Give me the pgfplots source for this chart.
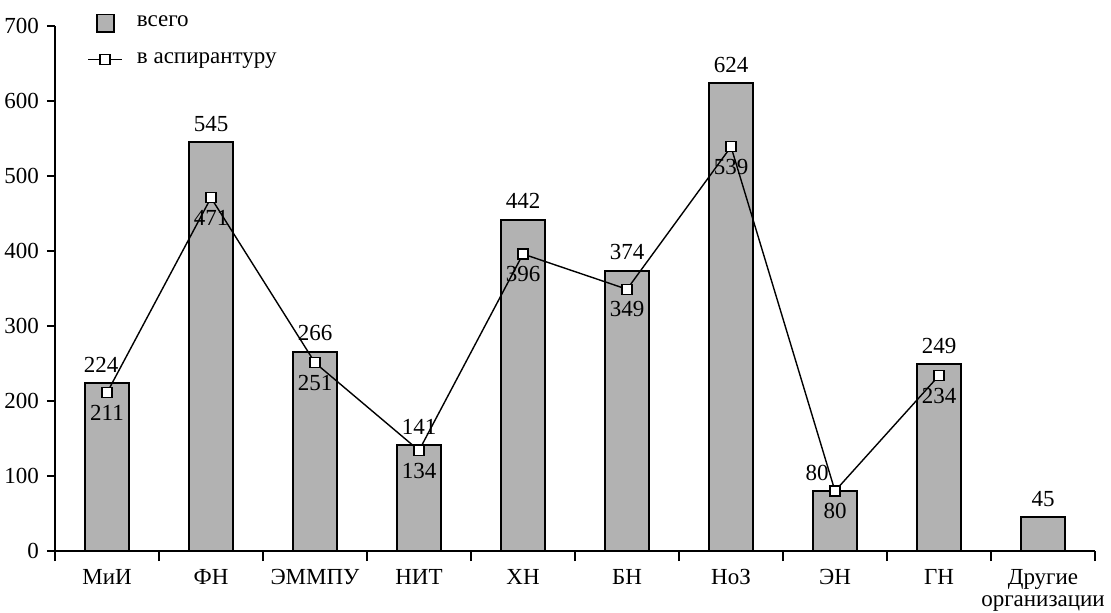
\documentclass[border=0pt]{standalone}
\usepackage{pgfplots}
\pgfplotsset{compat=1.18}
\usepackage{pgfplotstable}
\usepackage{fontspec}
\setmainfont{Liberation Serif}

\pgfplotstableread{
x y dx
0 224 -3
1 545 0
2 266 0
3 141 0
4 442 0
5 374 0
6 624 0
7 80 -9
8 249 0
9 45 0
}\bars

\pgfplotstableread{
x y
0 211
1 471
2 251
3 134
4 396
5 349
6 539
7 80
8 234
}\asp

\begin{document}
\begin{tikzpicture}
\path[use as bounding box] (-27.5pt,-30.5pt) rectangle (528pt,275.5pt);
\fontsize{11.5}{13}\selectfont
\begin{axis}[
  scale only axis,
  width=520pt, height=262.5pt,
  xmin=-0.5, xmax=9.5,
  ymin=0, ymax=700,
  axis lines=left,
  axis line style={line width=1pt, -},
  ytick={0,100,...,700},
  xtick={0,...,9},
  xticklabels={МиИ,ФН,ЭММПУ,НИТ,ХН,БН,НоЗ,ЭН,ГН,{Другие\\организации}},
  xticklabel style={align=center, font=\fontsize{11.5}{11}\selectfont, yshift=-1pt},
  yticklabel style={font=\fontsize{11.5}{13}\selectfont},
  major x tick style={draw=none},
  minor xtick={-0.5,0.5,...,9.5},
  minor x tick style={line width=1pt, black},
  major y tick style={line width=1pt, black},
  tick align=outside,
  major tick length=4pt,
  minor tick length=5pt,
  /pgf/number format/assume math mode=true,
  legend style={draw=none, fill=none, at={(rel axis cs:0.025,1.035)}, anchor=north west,
    font=\fontsize{11.5}{13}\selectfont, row sep=7pt, column sep=5pt},
  legend cell align=left,
  clip=false,
]
\addplot[ybar, bar width=0.42, fill=gray!60, draw=black, line width=1pt,
  nodes near coords,
  visualization depends on={\thisrow{dx} \as \dx},
  nodes near coords style={font=\fontsize{11.5}{13}\selectfont, xshift=\dx pt, yshift=1pt, black},
  legend image code/.code={\draw[fill=gray!60, draw=black, line width=0.8pt] (0.16cm,-0.15cm) rectangle (0.46cm,0.15cm);}
] table[x=x, y=y] {\bars};
\addlegendentry{всего}
\addplot[black, line width=0.7pt, mark=square*, mark options={fill=white, draw=black, line width=0.7pt}, mark size=2.5pt,
  nodes near coords,
  nodes near coords style={font=\fontsize{11.5}{13}\selectfont, anchor=north, yshift=-2pt, black}
] table[x=x, y=y] {\asp};
\addlegendentry{в аспирантуру}
\end{axis}
\end{tikzpicture}
\end{document}
